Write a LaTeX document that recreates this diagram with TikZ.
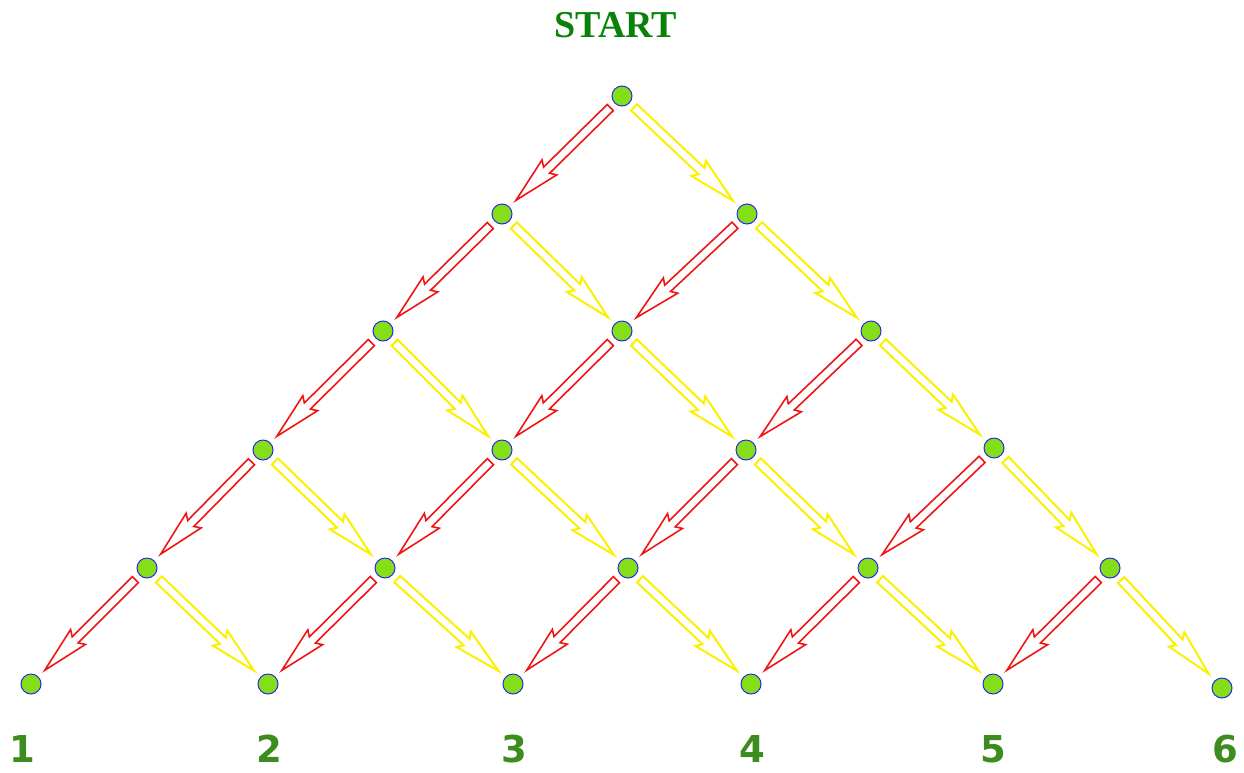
\documentclass[tikz,border=0pt]{standalone}
\usepackage{fontspec}
\setmainfont{Liberation Serif}
\newfontfamily\labfont{DejaVu Sans}
\usetikzlibrary{decorations.markings}
\definecolor{nodegreen}{RGB}{132,222,24}
\definecolor{nodeblue}{RGB}{40,40,230}
\definecolor{arrred}{RGB}{240,20,20}
\definecolor{arryel}{RGB}{250,240,0}
\definecolor{titlegreen}{RGB}{10,130,10}
\definecolor{labgreen}{RGB}{60,140,30}
\newcommand\hollowarrow[2]{%
  \pgfmathsetmacro\arrL{\pgfdecoratedpathlength}%
  \pgfmathsetmacro\arrE{\arrL-9}%
  \pgfmathsetmacro\arrB{\arrL-52}%
  \pgfmathsetmacro\arrC{\arrL-56}%
  \draw[draw=#1,line width=#2,line join=miter] (6pt,4.3pt) -- (\arrB pt,4.3pt) -- (\arrC pt,10.5pt) -- (\arrE pt,0pt) -- (\arrC pt,-10.5pt) -- (\arrB pt,-4.3pt) -- (6pt,-4.3pt) -- cycle;}
\tikzset{
  dot/.style={circle, fill=nodegreen, draw=nodeblue, line width=1pt, minimum size=20pt, inner sep=0pt},
  redarr/.style={decorate, decoration={markings, mark=at position 0 with {\hollowarrow{arrred}{1.6pt}}}},
  yelarr/.style={decorate, decoration={markings, mark=at position 0 with {\hollowarrow{arryel}{2pt}}}},
  lab/.style={text=labgreen, anchor=base, inner sep=0pt, text depth=0pt, font=\labfont\bfseries\fontsize{37}{37}\selectfont},
  title/.style={text=titlegreen, anchor=base, inner sep=0pt, font=\bfseries\fontsize{38}{38}\selectfont}
}
\begin{document}
\begin{tikzpicture}[x=1pt,y=-1pt]
\useasboundingbox (0,0) rectangle (1244,772);
\node[title] (start) at (616,37) {START};
% row 0
\node[dot] (n00) at (622,96) {};
% row 1
\node[dot] (n10) at (502,214) {};
\node[dot] (n11) at (747,214) {};
% row 2
\node[dot] (n20) at (383,331) {};
\node[dot] (n21) at (622,331) {};
\node[dot] (n22) at (871,331) {};
% row 3
\node[dot] (n30) at (263,450) {};
\node[dot] (n31) at (502,450) {};
\node[dot] (n32) at (746,450) {};
\node[dot] (n33) at (994,448) {};
% row 4
\node[dot] (n40) at (147,568) {};
\node[dot] (n41) at (385,568) {};
\node[dot] (n42) at (628,568) {};
\node[dot] (n43) at (868,568) {};
\node[dot] (n44) at (1110,568) {};
% row 5
\node[dot] (n50) at (31,684) {};
\node[dot] (n51) at (268,684) {};
\node[dot] (n52) at (513,684) {};
\node[dot] (n53) at (751,684) {};
\node[dot] (n54) at (993,684) {};
\node[dot] (n55) at (1222,688) {};
% arrows
\foreach \r in {0,...,4}{
  \foreach \k in {0,...,\r}{
    \pgfmathtruncatemacro\nr{\r+1}
    \pgfmathtruncatemacro\nk{\k+1}
    \path[redarr] (n\r\k) -- (n\nr\k);
    \path[yelarr] (n\r\k) -- (n\nr\nk);
  }
}
% labels
\node[lab] (l1) at (22,762) {1};
\node[lab] (l2) at (269,762) {2};
\node[lab] (l3) at (514,762) {3};
\node[lab] (l4) at (752,762) {4};
\node[lab] (l5) at (993,762) {5};
\node[lab] (l6) at (1225,762) {6};
\end{tikzpicture}
\end{document}
